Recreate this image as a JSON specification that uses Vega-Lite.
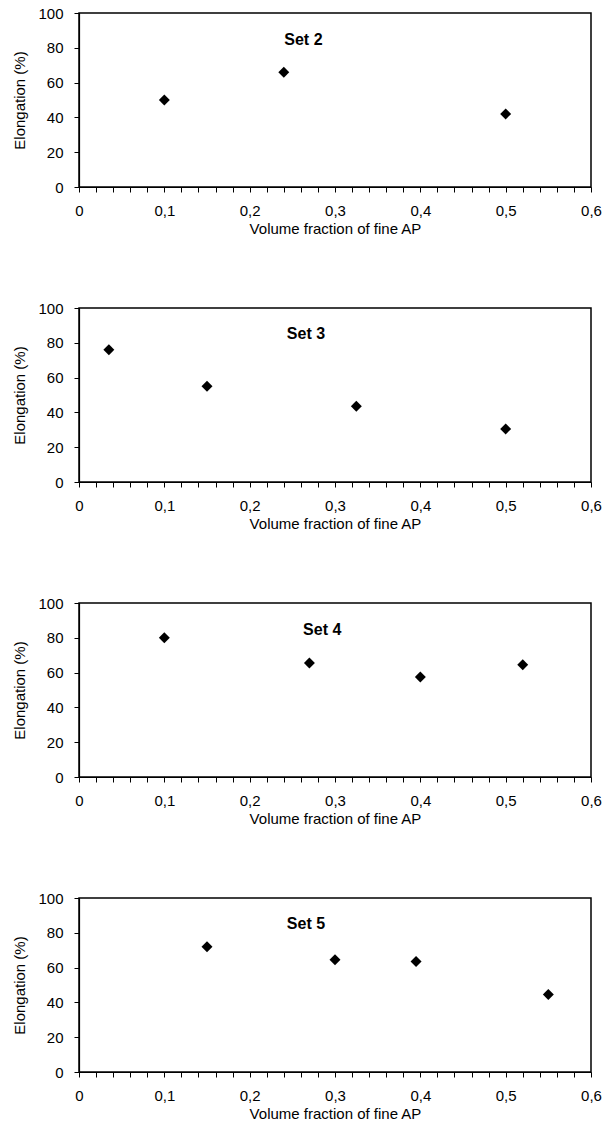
{
  "$schema": "https://vega.github.io/schema/vega-lite/v6.json",
  "padding": {"left": 12, "top": 5, "right": 10, "bottom": 5},
  "background": "white",
  "spacing": 63,
  "datasets": {
    "points": [
      {"set": "Set 2", "x": 0.1, "y": 50},
      {"set": "Set 2", "x": 0.24, "y": 66},
      {"set": "Set 2", "x": 0.5, "y": 42},
      {"set": "Set 3", "x": 0.035, "y": 76},
      {"set": "Set 3", "x": 0.15, "y": 55},
      {"set": "Set 3", "x": 0.325, "y": 43.5},
      {"set": "Set 3", "x": 0.5, "y": 30.5},
      {"set": "Set 4", "x": 0.1, "y": 80},
      {"set": "Set 4", "x": 0.27, "y": 65.5},
      {"set": "Set 4", "x": 0.4, "y": 57.5},
      {"set": "Set 4", "x": 0.52, "y": 64.5},
      {"set": "Set 5", "x": 0.15, "y": 72},
      {"set": "Set 5", "x": 0.3, "y": 64.5},
      {"set": "Set 5", "x": 0.395, "y": 63.5},
      {"set": "Set 5", "x": 0.55, "y": 44.5}
    ],
    "labels": [
      {"set": "Set 2"},
      {"set": "Set 3"},
      {"set": "Set 4"},
      {"set": "Set 5"}
    ]
  },
  "vconcat": [
    {
      "width": 512, "height": 174,
      "layer": [
        {
          "data": {"name": "points"},
          "transform": [{"filter": "datum.set == 'Set 2'"}],
          "mark": {"type": "point", "shape": "diamond", "filled": true, "color": "black", "size": 120, "opacity": 1},
          "encoding": {
            "x": {"field": "x", "type": "quantitative", "scale": {"domain": [0, 0.6], "nice": false},
              "axis": {"values": [0,0.02,0.04,0.06,0.08,0.1,0.12,0.14,0.16,0.18,0.2,0.22,0.24,0.26,0.28,0.3,0.32,0.34,0.36,0.38,0.4,0.42,0.44,0.46,0.48,0.5,0.52,0.54,0.56,0.58,0.6],
                "labelExpr": "abs(datum.value*10 - round(datum.value*10)) < 0.001 ? replace(format(datum.value, '.1~f'), '.', ',') : ''",
                "labelOverlap": false, "labelFlush": false, "labelPadding": 11,
                "title": "Volume fraction of fine AP"}},
            "y": {"field": "y", "type": "quantitative", "scale": {"domain": [0, 100], "nice": false},
              "axis": {"values": [0, 20, 40, 60, 80, 100], "labelOverlap": false, "labelPadding": 11, "title": "Elongation (%)"}}
          }
        },
        {
          "data": {"name": "labels"},
          "transform": [{"filter": "datum.set == 'Set 2'"}],
          "mark": {"type": "text", "font": "Liberation Sans", "fontWeight": "bold", "fontSize": 16, "color": "black"},
          "encoding": {
            "x": {"datum": 0.263, "type": "quantitative", "scale": {"domain": [0, 0.6], "nice": false},
              "axis": {"values": [0,0.02,0.04,0.06,0.08,0.1,0.12,0.14,0.16,0.18,0.2,0.22,0.24,0.26,0.28,0.3,0.32,0.34,0.36,0.38,0.4,0.42,0.44,0.46,0.48,0.5,0.52,0.54,0.56,0.58,0.6],
                "labelExpr": "abs(datum.value*10 - round(datum.value*10)) < 0.001 ? replace(format(datum.value, '.1~f'), '.', ',') : ''",
                "labelOverlap": false, "labelFlush": false, "labelPadding": 11,
                "title": "Volume fraction of fine AP"}},
            "y": {"datum": 84.5, "type": "quantitative", "scale": {"domain": [0, 100], "nice": false},
              "axis": {"values": [0, 20, 40, 60, 80, 100], "labelOverlap": false, "labelPadding": 11, "title": "Elongation (%)"}},
            "text": {"field": "set"}
          }
        }
      ]
    },
    {
      "width": 512, "height": 174,
      "layer": [
        {
          "data": {"name": "points"},
          "transform": [{"filter": "datum.set == 'Set 3'"}],
          "mark": {"type": "point", "shape": "diamond", "filled": true, "color": "black", "size": 120, "opacity": 1},
          "encoding": {
            "x": {"field": "x", "type": "quantitative", "scale": {"domain": [0, 0.6], "nice": false},
              "axis": {"values": [0,0.02,0.04,0.06,0.08,0.1,0.12,0.14,0.16,0.18,0.2,0.22,0.24,0.26,0.28,0.3,0.32,0.34,0.36,0.38,0.4,0.42,0.44,0.46,0.48,0.5,0.52,0.54,0.56,0.58,0.6],
                "labelExpr": "abs(datum.value*10 - round(datum.value*10)) < 0.001 ? replace(format(datum.value, '.1~f'), '.', ',') : ''",
                "labelOverlap": false, "labelFlush": false, "labelPadding": 11,
                "title": "Volume fraction of fine AP"}},
            "y": {"field": "y", "type": "quantitative", "scale": {"domain": [0, 100], "nice": false},
              "axis": {"values": [0, 20, 40, 60, 80, 100], "labelOverlap": false, "labelPadding": 11, "title": "Elongation (%)"}}
          }
        },
        {
          "data": {"name": "labels"},
          "transform": [{"filter": "datum.set == 'Set 3'"}],
          "mark": {"type": "text", "font": "Liberation Sans", "fontWeight": "bold", "fontSize": 16, "color": "black"},
          "encoding": {
            "x": {"datum": 0.266, "type": "quantitative", "scale": {"domain": [0, 0.6], "nice": false},
              "axis": {"values": [0,0.02,0.04,0.06,0.08,0.1,0.12,0.14,0.16,0.18,0.2,0.22,0.24,0.26,0.28,0.3,0.32,0.34,0.36,0.38,0.4,0.42,0.44,0.46,0.48,0.5,0.52,0.54,0.56,0.58,0.6],
                "labelExpr": "abs(datum.value*10 - round(datum.value*10)) < 0.001 ? replace(format(datum.value, '.1~f'), '.', ',') : ''",
                "labelOverlap": false, "labelFlush": false, "labelPadding": 11,
                "title": "Volume fraction of fine AP"}},
            "y": {"datum": 85, "type": "quantitative", "scale": {"domain": [0, 100], "nice": false},
              "axis": {"values": [0, 20, 40, 60, 80, 100], "labelOverlap": false, "labelPadding": 11, "title": "Elongation (%)"}},
            "text": {"field": "set"}
          }
        }
      ]
    },
    {
      "width": 512, "height": 174,
      "layer": [
        {
          "data": {"name": "points"},
          "transform": [{"filter": "datum.set == 'Set 4'"}],
          "mark": {"type": "point", "shape": "diamond", "filled": true, "color": "black", "size": 120, "opacity": 1},
          "encoding": {
            "x": {"field": "x", "type": "quantitative", "scale": {"domain": [0, 0.6], "nice": false},
              "axis": {"values": [0,0.02,0.04,0.06,0.08,0.1,0.12,0.14,0.16,0.18,0.2,0.22,0.24,0.26,0.28,0.3,0.32,0.34,0.36,0.38,0.4,0.42,0.44,0.46,0.48,0.5,0.52,0.54,0.56,0.58,0.6],
                "labelExpr": "abs(datum.value*10 - round(datum.value*10)) < 0.001 ? replace(format(datum.value, '.1~f'), '.', ',') : ''",
                "labelOverlap": false, "labelFlush": false, "labelPadding": 11,
                "title": "Volume fraction of fine AP"}},
            "y": {"field": "y", "type": "quantitative", "scale": {"domain": [0, 100], "nice": false},
              "axis": {"values": [0, 20, 40, 60, 80, 100], "labelOverlap": false, "labelPadding": 11, "title": "Elongation (%)"}}
          }
        },
        {
          "data": {"name": "labels"},
          "transform": [{"filter": "datum.set == 'Set 4'"}],
          "mark": {"type": "text", "font": "Liberation Sans", "fontWeight": "bold", "fontSize": 16, "color": "black"},
          "encoding": {
            "x": {"datum": 0.285, "type": "quantitative", "scale": {"domain": [0, 0.6], "nice": false},
              "axis": {"values": [0,0.02,0.04,0.06,0.08,0.1,0.12,0.14,0.16,0.18,0.2,0.22,0.24,0.26,0.28,0.3,0.32,0.34,0.36,0.38,0.4,0.42,0.44,0.46,0.48,0.5,0.52,0.54,0.56,0.58,0.6],
                "labelExpr": "abs(datum.value*10 - round(datum.value*10)) < 0.001 ? replace(format(datum.value, '.1~f'), '.', ',') : ''",
                "labelOverlap": false, "labelFlush": false, "labelPadding": 11,
                "title": "Volume fraction of fine AP"}},
            "y": {"datum": 84.5, "type": "quantitative", "scale": {"domain": [0, 100], "nice": false},
              "axis": {"values": [0, 20, 40, 60, 80, 100], "labelOverlap": false, "labelPadding": 11, "title": "Elongation (%)"}},
            "text": {"field": "set"}
          }
        }
      ]
    },
    {
      "width": 512, "height": 174,
      "layer": [
        {
          "data": {"name": "points"},
          "transform": [{"filter": "datum.set == 'Set 5'"}],
          "mark": {"type": "point", "shape": "diamond", "filled": true, "color": "black", "size": 120, "opacity": 1},
          "encoding": {
            "x": {"field": "x", "type": "quantitative", "scale": {"domain": [0, 0.6], "nice": false},
              "axis": {"values": [0,0.02,0.04,0.06,0.08,0.1,0.12,0.14,0.16,0.18,0.2,0.22,0.24,0.26,0.28,0.3,0.32,0.34,0.36,0.38,0.4,0.42,0.44,0.46,0.48,0.5,0.52,0.54,0.56,0.58,0.6],
                "labelExpr": "abs(datum.value*10 - round(datum.value*10)) < 0.001 ? replace(format(datum.value, '.1~f'), '.', ',') : ''",
                "labelOverlap": false, "labelFlush": false, "labelPadding": 11,
                "title": "Volume fraction of fine AP"}},
            "y": {"field": "y", "type": "quantitative", "scale": {"domain": [0, 100], "nice": false},
              "axis": {"values": [0, 20, 40, 60, 80, 100], "labelOverlap": false, "labelPadding": 11, "title": "Elongation (%)"}}
          }
        },
        {
          "data": {"name": "labels"},
          "transform": [{"filter": "datum.set == 'Set 5'"}],
          "mark": {"type": "text", "font": "Liberation Sans", "fontWeight": "bold", "fontSize": 16, "color": "black"},
          "encoding": {
            "x": {"datum": 0.266, "type": "quantitative", "scale": {"domain": [0, 0.6], "nice": false},
              "axis": {"values": [0,0.02,0.04,0.06,0.08,0.1,0.12,0.14,0.16,0.18,0.2,0.22,0.24,0.26,0.28,0.3,0.32,0.34,0.36,0.38,0.4,0.42,0.44,0.46,0.48,0.5,0.52,0.54,0.56,0.58,0.6],
                "labelExpr": "abs(datum.value*10 - round(datum.value*10)) < 0.001 ? replace(format(datum.value, '.1~f'), '.', ',') : ''",
                "labelOverlap": false, "labelFlush": false, "labelPadding": 11,
                "title": "Volume fraction of fine AP"}},
            "y": {"datum": 85, "type": "quantitative", "scale": {"domain": [0, 100], "nice": false},
              "axis": {"values": [0, 20, 40, 60, 80, 100], "labelOverlap": false, "labelPadding": 11, "title": "Elongation (%)"}},
            "text": {"field": "set"}
          }
        }
      ]
    }
  ],
  "config": {
    "view": {"stroke": "black", "strokeWidth": 1.5},
    "axis": {
      "grid": false,
      "domainColor": "black",
      "domainWidth": 1.2,
      "tickColor": "black",
      "tickSize": 5,
      "labelColor": "black",
      "labelFont": "Liberation Sans",
      "labelFontSize": 15,
      "labelOverlap": false,
      "labelFlush": false,
      "titleColor": "black",
      "titleFont": "Liberation Sans",
      "titleFontSize": 15,
      "titleFontWeight": "normal"
    },
    "axisX": {"titlePadding": 3},
    "axisY": {"titlePadding": 10}
  }
}
